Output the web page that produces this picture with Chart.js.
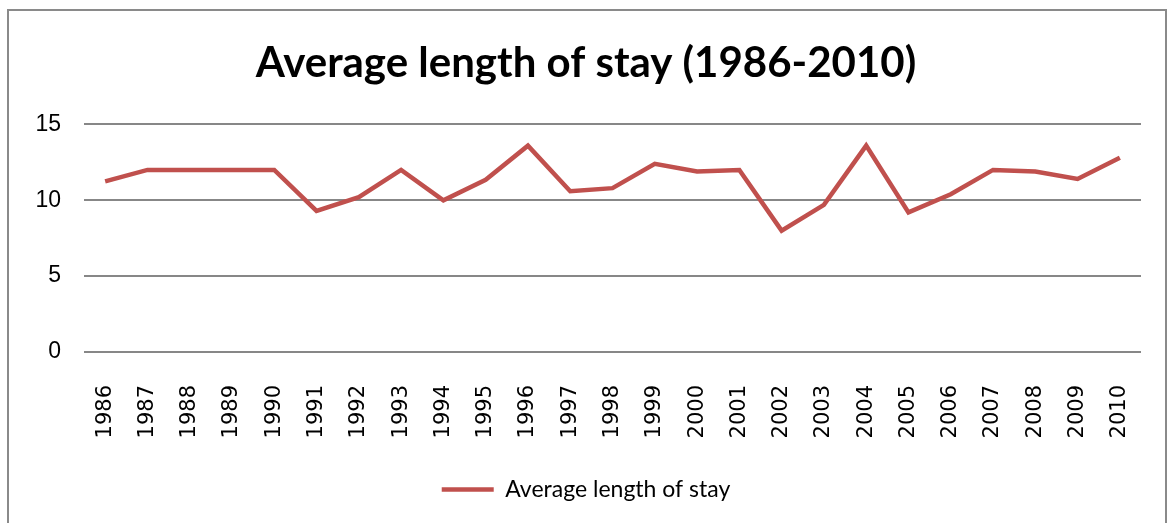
<!DOCTYPE html>
<html>
<head>
<meta charset="utf-8">
<script src="https://cdn.jsdelivr.net/npm/chart.js@4.4.1/dist/chart.umd.min.js"></script>
<style>
  html, body { margin: 0; padding: 0; background: #fff; }
  #wrap { position: relative; width: 1172px; height: 523px; overflow: hidden; }
  #frame {
    position: absolute; left: 7px; top: 9px; width: 1160px; height: 530px;
    border: 2px solid #8a8a8a; box-sizing: border-box;
  }
  canvas { position: absolute; left: 0; top: 0; }
</style>
</head>
<body>
<div id="wrap">
  <div id="frame"></div>
  <canvas id="stayChart" width="1172" height="523"></canvas>
</div>
<script>
// Chart data
const years = ["1986", "1987", "1988", "1989", "1990", "1991", "1992", "1993", "1994",
  "1995", "1996", "1997", "1998", "1999", "2000", "2001", "2002", "2003", "2004",
  "2005", "2006", "2007", "2008", "2009", "2010"];
const avgStay = [11.25, 12.0, 12.0, 12.0, 12.0, 9.3, 10.2, 12.0, 10.0,
  11.35, 13.6, 10.6, 10.8, 12.4, 11.9, 12.0, 8.0, 9.7, 13.6,
  9.2, 10.4, 12.0, 11.9, 11.4, 12.8];
const yTicks = [0, 5, 10, 15];

const ctx = document.getElementById("stayChart").getContext("2d");
const stayChart = new Chart(ctx, {
  type: "line",
  data: {
    labels: years,
    datasets: [
      {
        label: "Average length of stay",
        data: avgStay,
        borderColor: "#C0504D",
        backgroundColor: "#C0504D",
        borderWidth: 4.5,
        pointRadius: 0,
        tension: 0,
      },
    ],
  },
  options: {
    responsive: false,
    animation: false,
    layout: {
      padding: { left: 0, right: 0, top: 0, bottom: 12 },
    },
    scales: {
      x: {
        offset: true,
        grid: { display: false },
        border: { display: false },
        ticks: {
          color: "#000",
          font: { family: "DejaVu Sans", size: 21 },
          minRotation: 90,
          maxRotation: 90,
          autoSkip: false,
          padding: 25,
        },
        afterFit: function (scale) {
          scale.height = 116;
        },
      },
      y: {
        min: yTicks[0],
        max: yTicks[yTicks.length - 1],
        afterBuildTicks: function (scale) {
          scale.ticks = yTicks.map((v) => ({ value: v }));
        },
        grid: { color: "#878787", lineWidth: 2, drawTicks: false },
        border: { display: false },
        ticks: {
          color: "#000",
          font: { family: "Liberation Sans", size: 23 },
          padding: 23,
        },
        afterFit: function (scale) {
          scale.width = 84;
        },
      },
      // empty right-hand axis, only keeps the plot area off the right edge
      spacer: {
        type: "linear",
        position: "right",
        grid: { display: false },
        border: { display: false },
        ticks: { display: false },
        afterFit: function (scale) {
          scale.width = 31;
        },
      },
    },
    plugins: {
      title: {
        display: true,
        text: "Average length of stay (1986-2010)",
        color: "#000",
        font: { family: "Lato", size: 42, weight: "bold" },
        padding: { top: 38, bottom: 36 },
      },
      legend: {
        position: "bottom",
        labels: {
          color: "#000",
          font: { family: "Lato", size: 23 },
          usePointStyle: true,
          pointStyle: "line",
          pointStyleWidth: 52,
          padding: 10,
        },
      },
      tooltip: { enabled: false },
    },
  },
});
</script>
</body>
</html>
